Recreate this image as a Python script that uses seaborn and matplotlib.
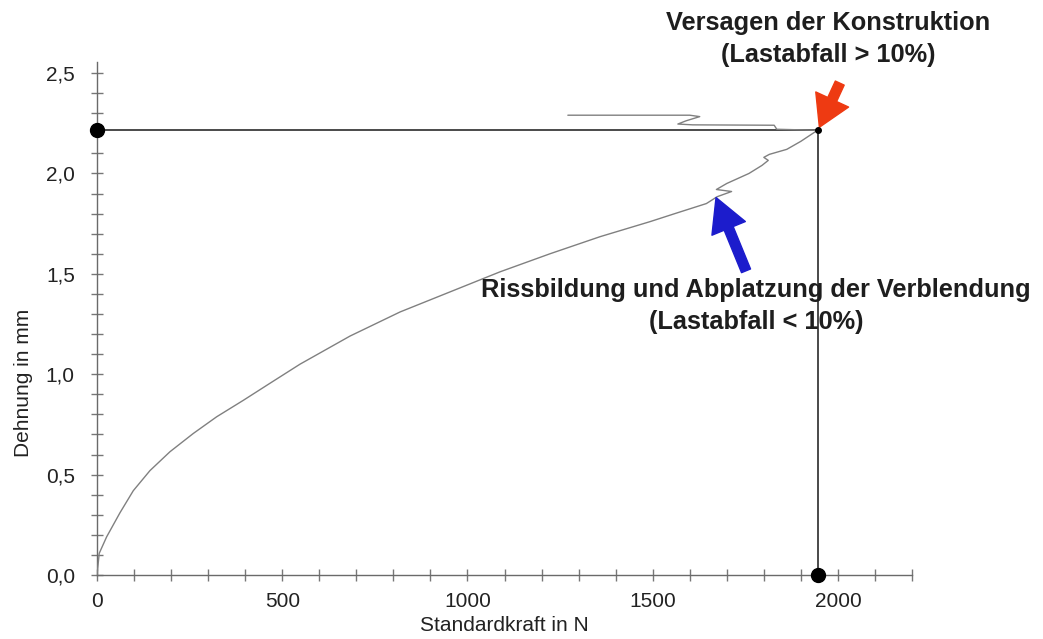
import matplotlib
matplotlib.use("Agg")
import matplotlib.pyplot as plt
import seaborn as sns
import pandas as pd

# ---- data ----
kraft = [0, 6, 26, 62, 98, 143, 197, 260, 323, 395, 467, 548, 683, 818, 953,
         1088, 1223, 1358, 1493, 1560, 1645, 1674, 1713, 1672, 1700, 1760,
         1795, 1812, 1800, 1815, 1862, 1900, 1945,
         1835, 1828, 1608, 1568, 1590, 1627, 1600, 1271]
dehnung = [0.0, 0.108, 0.19, 0.31, 0.42, 0.52, 0.614, 0.705, 0.788, 0.87, 0.955,
           1.05, 1.19, 1.31, 1.41, 1.51, 1.60, 1.685, 1.76, 1.80, 1.85, 1.884,
           1.91, 1.92, 1.95, 2.00, 2.04, 2.065, 2.08, 2.095, 2.12, 2.16, 2.215,
           2.22, 2.24, 2.242, 2.246, 2.262, 2.283, 2.29, 2.29]
fail_x = 1945
fail_y = 2.215

xticks = [0, 500, 1000, 1500, 2000]
xtick_labels = ["0", "500", "1000", "1500", "2000"]
yticks = [0.0, 0.5, 1.0, 1.5, 2.0, 2.5]
ytick_labels = ["0,0", "0,5", "1,0", "1,5", "2,0", "2,5"]

xlabel = "Standardkraft in N"
ylabel = "Dehnung in mm"
text_fail = "Versagen der Konstruktion\n(Lastabfall > 10%)"
text_crack = "Rissbildung und Abplatzung der Verblendung\n(Lastabfall < 10%)"

# ---- style ----
sns.set_theme(style="white")
plt.rcParams['font.family'] = ['Liberation Sans', 'DejaVu Sans']

W, H = 1043, 639
fig = plt.figure(figsize=(W / 100, H / 100), dpi=100)
ax = fig.add_axes([97 / W, 64 / H, 815 / W, 513 / H])

df = pd.DataFrame({"kraft": kraft, "dehnung": dehnung})
sns.lineplot(data=df, x="kraft", y="dehnung", sort=False, estimator=None,
             color="#808080", linewidth=1.0, ax=ax, zorder=3)

# reference lines to the failure point
ax.plot([0, fail_x], [fail_y, fail_y], color="#3c3c3c", linewidth=1.3, zorder=2)
ax.plot([fail_x, fail_x], [0, fail_y], color="#3c3c3c", linewidth=1.3, zorder=2)
ax.plot([0], [fail_y], 'o', color="black", markersize=10, clip_on=False, zorder=5)
ax.plot([fail_x], [0], 'o', color="black", markersize=10, clip_on=False, zorder=5)
ax.plot([fail_x], [fail_y], 'o', color="black", markersize=4, clip_on=False, zorder=5)

ax.set_xlim(0, 2200)
ax.set_ylim(0, 2.555)
ax.set_xticks(xticks)
ax.set_xticklabels(xtick_labels)
ax.set_yticks(yticks)
ax.set_yticklabels(ytick_labels)
ax.set_xticks(range(0, 2201, 100), minor=True)
ax.set_yticks([i / 10 for i in range(0, 26)], minor=True)

for s in ["top", "right"]:
    ax.spines[s].set_visible(False)
for s in ["left", "bottom"]:
    ax.spines[s].set_color("#6a6a6a")
    ax.spines[s].set_linewidth(1.0)

ax.tick_params(axis="both", which="both", direction="inout", color="#777777",
               width=1.0, length=8, labelsize=15, labelcolor="#222222",
               bottom=True, left=True, top=False, right=False)
ax.tick_params(axis="x", which="major", pad=8)
ax.tick_params(axis="y", which="major", pad=12)

ax.set_xlabel(xlabel, fontsize=15, color="#222222")
ax.set_ylabel(ylabel, fontsize=15, color="#222222")
ax.xaxis.set_label_coords(0.5, -0.080)
ax.yaxis.set_label_coords(-0.078, 0.374)

# annotations
fig.text(828 / W, 1 - 39 / H, text_fail, ha="center", va="center", fontsize=18.3,
         fontweight="bold", color="#1e1e1e", linespacing=1.4)
fig.text(756 / W, 1 - 306 / H, text_crack, ha="center", va="center", fontsize=18.3,
         fontweight="bold", color="#1e1e1e", linespacing=1.4, zorder=1)

ax.annotate("", xy=(1950, 2.23), xytext=(2005, 2.45), annotation_clip=False,
            arrowprops=dict(arrowstyle="simple,head_length=1.1,head_width=1.3,tail_width=0.35",
                            color="#ee3a12", mutation_scale=20, shrinkA=0, shrinkB=0))
ax.annotate("", xy=(1671, 1.88), xytext=(1752, 1.515), annotation_clip=False,
            arrowprops=dict(arrowstyle="simple,head_length=1.2,head_width=1.3,tail_width=0.35",
                            color="#1c1ccc", mutation_scale=20, shrinkA=0, shrinkB=0))

fig.savefig("out.png", dpi=100)
